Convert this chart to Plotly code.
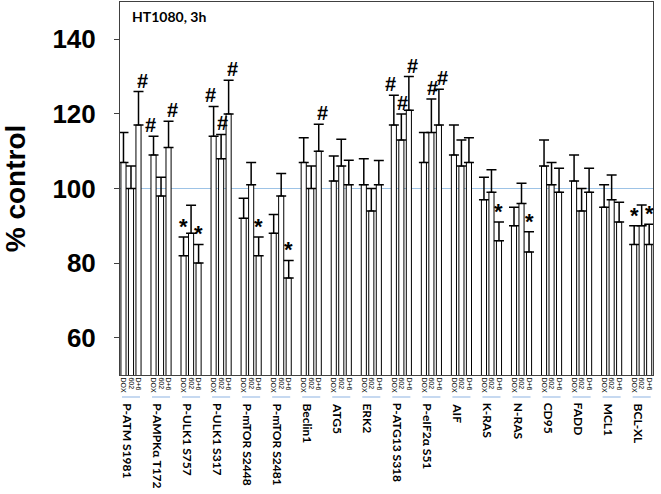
import plotly.graph_objects as go

# groups (x axis)
groups = ["P-ATM S1981", "P-AMPKα T172", "P-ULK1 S757", "P-ULK1 S317",
          "P-mTOR S2448", "P-mTOR S2481", "Beclin1", "ATG5", "ERK2",
          "P-ATG13 S318", "P-eIF2α S51", "AIF", "K-RAS", "N-RAS", "CD95",
          "FADD", "MCL1", "BCL-XL"]
treatments = ["DOX", "602", "D+6"]

# % control
dox = [107, 109, 82, 114, 92, 88, 107, 102, 101, 117, 107, 109, 97, 90, 106, 102, 95, 85]
c602 = [100, 98, 88, 108, 101, 98, 100, 106, 94, 113, 115, 106, 99, 96, 101, 94, 97, 90]
dplus6 = [117, 111, 80, 120, 82, 76, 110, 101, 101, 121, 117, 107, 86, 83, 99, 99, 91, 85]

# upper error bars
dox_err = [8, 5, 5, 8, 5.4, 5, 6.6, 6.7, 7, 8, 8, 8, 6, 5, 7, 7, 6, 5]
c602_err = [6, 5, 7.5, 6.5, 6, 6, 6, 7.2, 6, 7, 9, 7, 6, 5.4, 6, 6, 6.6, 5.6]
dplus6_err = [9, 7, 5, 9, 5, 4.7, 7.2, 6.6, 6.5, 9, 9.6, 6.6, 5, 5.4, 6.4, 6.4, 5.3, 5.4]

# significance marks (# / *)
dox_sig = ["", "#", "*", "#", "", "", "", "", "", "#", "", "", "", "", "", "", "", "*"]
c602_sig = ["", "", "", "#", "", "", "", "", "", "#", "#", "", "", "", "", "", "", ""]
dplus6_sig = ["#", "#", "*", "#", "*", "*", "#", "", "", "#", "#", "", "*", "*", "", "", "", "*"]

series = [(treatments[0], dox, dox_err, dox_sig),
          (treatments[1], c602, c602_err, c602_sig),
          (treatments[2], dplus6, dplus6_err, dplus6_sig)]
offsets = [-0.25, 0, 0.25]
mark_shift = [-3, 1, 4]

fig = go.Figure()
annotations = []
tickvals, ticktext = [], []

for (name, vals, errs, sig), off, dx in zip(series, offsets, mark_shift):
    xs = [i + off for i in range(len(groups))]
    fig.add_trace(go.Bar(
        x=xs, y=vals, width=0.17, name=name,
        marker=dict(color="white", line=dict(color="black", width=1)),
        error_y=dict(type="data", array=errs, arrayminus=[0] * len(errs),
                     symmetric=False, color="black", thickness=1.5, width=5),
        showlegend=False,
    ))
    tickvals += xs
    ticktext += [name] * len(xs)
    for x, v, e, s in zip(xs, vals, errs, sig):
        if s:
            annotations.append(dict(
                x=x, y=v + e, text="<b>%s</b>" % s, showarrow=False,
                xanchor="center", yanchor="bottom",
                xshift=dx if s == "#" else 0,
                yshift=-2 if s == "#" else -4,
                font=dict(family="Liberation Sans", size=20 if s == "#" else 22, color="black"),
            ))

# group names under the small treatment labels
for i, g in enumerate(groups):
    annotations.append(dict(
        x=i - 0.12, y=-0.07, xref="x", yref="paper", text="<b>%s</b>" % g,
        showarrow=False, textangle=90, xanchor="center", yanchor="top",
        font=dict(family="Lato", size=12, color="black"),
    ))

annotations.append(dict(
    x=0.019, y=0.96, xref="paper", yref="paper", text="<b>HT1080, 3h</b>",
    showarrow=False, xanchor="left", yanchor="middle",
    font=dict(family="Lato", size=14, color="black"),
))

shapes = [dict(type="line", xref="paper", yref="y", x0=0, x1=1, y0=100, y1=100,
               line=dict(color="#9DC3E6", width=1), layer="below")]
for i in range(len(groups)):
    shapes.append(dict(type="line", xref="x", yref="paper", x0=i - 0.3, x1=i + 0.3,
                       y0=-0.059, y1=-0.059, line=dict(color="#8DB3E2", width=1)))

fig.update_layout(
    width=661, height=494,
    margin=dict(l=120, r=8, t=2, b=119),
    plot_bgcolor="white", paper_bgcolor="white",
    barmode="overlay",
    annotations=annotations, shapes=shapes,
    xaxis=dict(range=[-0.366, 17.377], tickvals=tickvals, ticktext=ticktext,
               tickangle=90, tickfont=dict(family="Liberation Sans", size=7, color="black"),
               ticks="", showgrid=False, zeroline=False, automargin=False,
               showline=True, mirror=True, linecolor="#404040", linewidth=1),
    yaxis=dict(range=[50, 150], tickvals=[60, 80, 100, 120, 140],
               ticks="outside", ticklen=5, tickcolor="#404040",
               tickfont=dict(family="Liberation Sans", size=26, color="black", weight="bold"),
               ticklabelstandoff=13, showgrid=False, zeroline=False, automargin=False,
               showline=True, mirror=True, linecolor="#404040", linewidth=1,
               title=dict(text="% control", standoff=19,
                          font=dict(family="Liberation Sans", size=28, color="black", weight="bold"))),
)

# page body has a default 8px margin; drop it so the figure sits at the window corner
fig.write_html("out.html", config={"displayModeBar": False},
               post_script="document.body.style.margin='0';")
